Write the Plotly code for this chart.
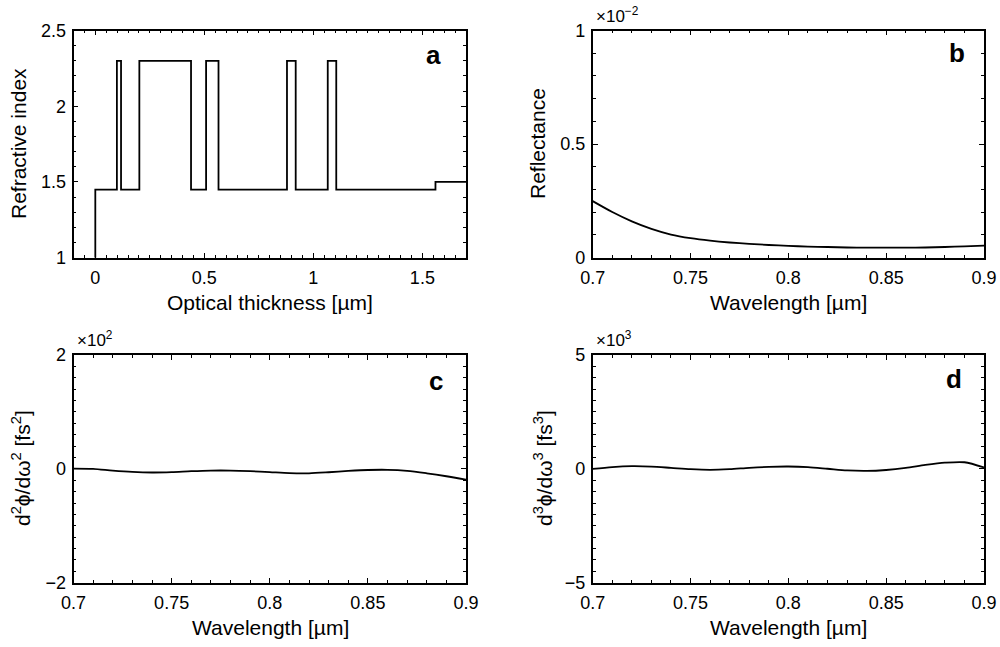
import plotly.graph_objects as go

# ---------------- data ----------------
# panel a: refractive index profile (layer start positions and indices)
layer_start = [0.0, 0.099, 0.118, 0.202, 0.439, 0.508, 0.565, 0.879, 0.919, 1.066, 1.105, 1.56]
layer_index = [1.45, 2.30, 1.45, 2.30, 1.45, 2.30, 1.45, 2.30, 1.45, 2.30, 1.45, 1.50]
ambient_index = 1.0
substrate_end = 1.7

# panels b-d: wavelength grid [um]
wavelength = [0.70, 0.71, 0.72, 0.73, 0.74, 0.75, 0.76, 0.77, 0.78, 0.79, 0.80,
              0.81, 0.82, 0.83, 0.84, 0.85, 0.86, 0.87, 0.88, 0.89, 0.90]
# reflectance (x 1e-2)
reflectance = [0.249, 0.201, 0.160, 0.127, 0.102, 0.086, 0.075, 0.067, 0.061, 0.056, 0.052,
               0.049, 0.047, 0.045, 0.044, 0.044, 0.044, 0.045, 0.047, 0.050, 0.053]
# GDD (x 1e2 fs^2)
gdd = [0.005, 0.000, -0.030, -0.053, -0.064, -0.058, -0.041, -0.030, -0.030, -0.040, -0.057,
       -0.075, -0.078, -0.060, -0.037, -0.020, -0.017, -0.035, -0.078, -0.130, -0.190]
# TOD (x 1e3 fs^3)
tod = [0.000, 0.080, 0.118, 0.100, 0.044, -0.015, -0.044, -0.015, 0.044, 0.088, 0.103,
       0.076, 0.005, -0.070, -0.090, -0.050, 0.040, 0.170, 0.270, 0.290, 0.060]

FONT = "Liberation Sans"
W, H = 1000, 647

# panel boxes in pixels: (left, right, top, bottom)
boxes = {
    "a": (73.5, 466.0, 30.5, 257.7),
    "b": (592.7, 984.0, 30.5, 257.7),
    "c": (73.5, 466.0, 355.0, 582.7),
    "d": (592.7, 984.0, 355.0, 582.7),
}

def xd(px):
    return px / W

def yd(py):
    return 1 - py / H

fig = go.Figure()

LINE = dict(color="black", width=1.8)
fig.add_trace(go.Scatter(x=[layer_start[0]] + layer_start + [substrate_end],
                         y=[ambient_index] + layer_index + [layer_index[-1]],
                         mode="lines", line=dict(LINE, shape="hv"),
                         xaxis="x", yaxis="y", showlegend=False))
fig.add_trace(go.Scatter(x=wavelength, y=reflectance, mode="lines",
                         line=dict(LINE, shape="spline", smoothing=0.8),
                         xaxis="x2", yaxis="y2", showlegend=False))
fig.add_trace(go.Scatter(x=wavelength, y=gdd, mode="lines",
                         line=dict(LINE, shape="spline", smoothing=0.8),
                         xaxis="x3", yaxis="y3", showlegend=False))
fig.add_trace(go.Scatter(x=wavelength, y=tod, mode="lines",
                         line=dict(LINE, shape="spline", smoothing=0.8),
                         xaxis="x4", yaxis="y4", showlegend=False))

def axis(dom, rng, tickvals, ticktext, minor_dtick, anchor, minor_tick0, standoff):
    return dict(
        domain=dom, range=rng, anchor=anchor, automargin=False,
        tickmode="array", tickvals=tickvals, ticktext=ticktext,
        ticks="inside", ticklen=5, tickwidth=1, tickcolor="black",
        ticklabelstandoff=standoff,
        minor=dict(ticks="inside", ticklen=3, tickwidth=1, tickcolor="black",
                   dtick=minor_dtick, tick0=minor_tick0, showgrid=False),
        showline=True, linecolor="black", linewidth=1.6, mirror="allticks",
        showgrid=False, zeroline=False,
        tickfont=dict(family=FONT, size=18, color="black"),
    )

layout = dict(
    template="none",
    width=W, height=H, margin=dict(l=0, r=0, t=0, b=0, pad=0), autosize=False,
    paper_bgcolor="white", plot_bgcolor="white", showlegend=False,
    font=dict(family=FONT, color="black"),
)

wl_ticks = [0.7, 0.75, 0.8, 0.85, 0.9]
wl_text = ["0.7", "0.75", "0.8", "0.85", "0.9"]

specs = [
    ("a", "", dict(x=([-0.1, 1.7], [0, 0.5, 1, 1.5], ["0", "0.5", "1", "1.5"], 0.05, 0.0),
                   y=([1, 2.5], [1, 1.5, 2, 2.5], ["1", "1.5", "2", "2.5"], 0.1, 1.0))),
    ("b", "2", dict(x=([0.7, 0.9], wl_ticks, wl_text, 0.01, 0.7),
                    y=([0, 1], [0, 0.5, 1], ["0", "0.5", "1"], 0.1, 0.0))),
    ("c", "3", dict(x=([0.7, 0.9], wl_ticks, wl_text, 0.01, 0.7),
                    y=([-2, 2], [-2, 0, 2], ["\u22122", "0", "2"], 0.2, -2.0))),
    ("d", "4", dict(x=([0.7, 0.9], wl_ticks, wl_text, 0.01, 0.7),
                    y=([-5, 5], [-5, 0, 5], ["\u22125", "0", "5"], 0.5, -5.0))),
]

for key, suf, ax in specs:
    l, r, t, b = boxes[key]
    xr, xt, xtt, xm, x0 = ax["x"]
    yr, yt, ytt, ym, y0 = ax["y"]
    layout["xaxis" + suf] = axis([xd(l), xd(r)], xr, xt, xtt, xm, "y" + suf, x0, 3)
    layout["yaxis" + suf] = axis([yd(b), yd(t)], yr, yt, ytt, ym, "x" + suf, y0, 2)

fig.update_layout(**layout)

annotations = []
def ann(text, x, y, size, bold=False, angle=0, xanchor="center", yanchor="middle"):
    annotations.append(dict(
        text=("<b>%s</b>" % text) if bold else text, x=xd(x), y=yd(y), xref="paper", yref="paper",
        showarrow=False, xanchor=xanchor, yanchor=yanchor, textangle=angle,
        font=dict(family=FONT, size=size, color="black")))

# axis titles
ann("Optical thickness [\u00b5m]", 270, 302, 21)
ann("Wavelength [\u00b5m]", 788, 302, 21)
ann("Wavelength [\u00b5m]", 270, 627, 21)
ann("Wavelength [\u00b5m]", 788, 627, 21)
ann("Refractive index", 19, 144, 21, angle=-90)
ann("Reflectance", 538, 144, 21, angle=-90)
ann("d<sup>2</sup>\u03d5/d\u03c9<sup>2</sup> [fs<sup>2</sup>]", 21, 468, 21, angle=-90)
ann("d<sup>3</sup>\u03d5/d\u03c9<sup>3</sup> [fs<sup>3</sup>]", 543, 468, 21, angle=-90)

# exponent labels
ann("\u00d710<sup>\u22122</sup>", 594, 28, 17, xanchor="left", yanchor="bottom")
ann("\u00d710<sup>2</sup>", 75, 352, 17, xanchor="left", yanchor="bottom")
ann("\u00d710<sup>3</sup>", 594, 352, 17, xanchor="left", yanchor="bottom")

# panel letters
ann("a", 433, 55, 26, bold=True)
ann("b", 957, 53, 26, bold=True)
ann("c", 436, 381, 26, bold=True)
ann("d", 954, 379, 26, bold=True)

fig.update_layout(annotations=annotations)
fig.write_html(
    "out.html",
    config={"displayModeBar": False},
    post_script="document.body.style.margin='0px';"
                "document.body.style.overflow='hidden';"
                "document.documentElement.style.overflow='hidden';",
)
